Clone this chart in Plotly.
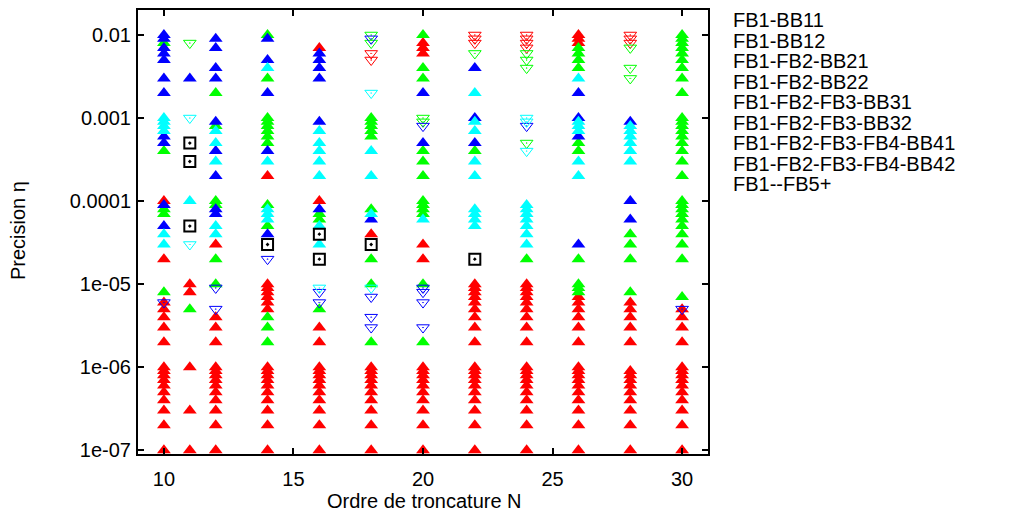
import plotly.graph_objects as go

# Precision values per truncation order N
low_band = [1e-7, 2e-7, 3e-7, 4e-7, 5e-7, 6e-7, 7e-7, 8e-7, 9e-7, 1e-6]
mid_band = [5e-6, 6e-6, 7e-6, 8e-6, 9e-6, 1e-5]

bb11 = {
    10: low_band + [2e-6, 3e-6, 4e-6, 5e-6, 6e-6, 2e-5, 1e-4],
    11: [1e-7, 3e-7, 1e-6, 8e-6, 1e-5],
    12: low_band + [2e-6, 3e-6, 4e-6, 3e-5],
    14: low_band + mid_band + [2e-4],
    16: low_band + [2e-6, 3e-6, 1e-4, 0.007],
    18: low_band + [4e-5],
    20: low_band + [2e-5, 3e-5, 0.006, 0.007, 0.008],
    22: low_band + [2e-6, 3e-6, 4e-6] + mid_band,
    24: low_band + [2e-6, 3e-6, 4e-6] + mid_band,
    26: low_band + [2e-6, 3e-6, 4e-6, 5e-6, 6e-6, 7e-6, 0.008, 0.009, 0.01],
    28: [1e-7, 2e-7, 3e-7, 4e-7, 5e-7, 6e-7, 7e-7, 8e-7, 9e-7, 2e-6, 3e-6, 4e-6, 5e-6, 6e-6],
    30: low_band + [2e-6, 3e-6, 4e-6, 5e-6],
}
bb12 = {
    18: [0.006, 0.005],
    22: [0.01, 0.009, 0.008],
    24: [0.01, 0.009, 0.008, 0.007],
    28: [0.01, 0.009, 0.008],
}
bb21 = {
    10: [0.008, 4e-4, 8e-5, 7e-5, 8e-6],
    11: [5e-6],
    12: [0.002, 8e-4, 1e-4, 9e-5, 2e-5, 1e-5],
    14: [0.01, 0.003, 1e-3, 9e-4, 8e-4, 7e-4, 6e-4, 5e-4, 9e-5, 5e-5, 4e-6, 3e-6, 2e-6],
    16: [7e-5, 6e-5, 5e-6],
    18: [1e-3, 9e-4, 8e-4, 7e-4, 6e-4, 8e-5, 2e-5, 1e-5, 2e-6],
    20: [0.01, 0.004, 0.003, 4e-4, 3e-4, 2e-4, 1e-4, 9e-5, 8e-5, 7e-5, 1e-5, 2e-6],
    22: [4e-4],
    24: [2e-5],
    26: [0.007, 0.006, 0.005, 0.004, 5e-4, 4e-4, 2e-5, 1e-5, 9e-6, 8e-6],
    28: [4e-5, 3e-5, 2e-5, 8e-6],
    30: [0.01, 0.009, 0.008, 0.007, 0.006, 0.005, 0.004, 0.003, 0.002,
         1e-3, 9e-4, 8e-4, 7e-4, 6e-4, 5e-4, 4e-4, 3e-4, 2e-4,
         1e-4, 9e-5, 8e-5, 7e-5, 6e-5, 5e-5, 4e-5, 3e-5, 2e-5, 7e-6],
}
bb22 = {
    11: [0.008],
    18: [0.01, 0.008],
    20: [1e-3, 9e-4],
    22: [0.006],
    24: [0.006, 0.005, 0.004, 5e-4],
    28: [0.007, 0.004, 0.003],
}
bb31 = {
    10: [0.01, 0.009, 0.007, 0.006, 0.005, 0.003, 0.002, 6e-4, 5e-4, 9e-5, 5e-5],
    11: [0.003],
    12: [0.009, 0.007, 0.004, 0.003, 9e-4, 4e-4, 2e-4, 8e-5, 7e-5],
    14: [0.009, 0.005, 0.002, 4e-4, 4e-5],
    16: [0.006, 0.005, 0.004, 0.003, 9e-4, 8e-5],
    18: [6e-5],
    20: [0.002, 5e-4],
    22: [0.004, 1e-3, 5e-4],
    26: [0.002, 1e-3, 6e-4, 3e-5],
    28: [9e-4, 1e-4, 6e-5],
}
bb32 = {
    10: [6e-6],
    12: [9e-6, 5e-6],
    14: [2e-5],
    16: [8e-6, 6e-6],
    18: [0.009, 7e-6, 4e-6, 3e-6],
    20: [8e-4, 9e-6, 8e-6, 6e-6, 3e-6],
    24: [8e-4],
    30: [5e-6],
}
bb41 = {
    10: [1e-3, 9e-4, 8e-4, 7e-4, 4e-5, 3e-5],
    11: [1e-4],
    12: [7e-4, 5e-4, 3e-4, 5e-5, 4e-5],
    14: [0.004, 3e-4, 8e-5, 7e-5, 6e-5],
    16: [7e-4, 5e-4, 4e-4, 3e-4, 2e-4, 5e-5, 3e-5],
    18: [4e-4, 2e-4, 7e-5],
    20: [6e-5],
    22: [0.002, 9e-4, 7e-4, 3e-4, 2e-4, 8e-5, 7e-5, 6e-5, 5e-5],
    24: [9e-5, 8e-5, 7e-5, 6e-5, 5e-5, 4e-5, 3e-5],
    26: [0.003, 9e-4, 8e-4, 7e-4, 3e-4, 2e-4],
    28: [8e-4, 7e-4, 6e-4, 5e-4, 4e-4, 3e-4],
}
bb42 = {
    11: [1e-3, 3e-5],
    16: [9e-6],
    18: [0.002, 9e-6],
    24: [1e-3, 9e-4, 4e-4],
}
fb5 = {
    11: [5e-4, 3e-4, 5e-5],
    14: [3e-5],
    16: [4e-5, 2e-5],
    18: [3e-5],
    22: [2e-5],
}

series = [
    ("FB1-BB11", bb11, "triangle-up", "#ff0000"),
    ("FB1-BB12", bb12, "triangle-down-open-dot", "#ff0000"),
    ("FB1-FB2-BB21", bb21, "triangle-up", "#00ff00"),
    ("FB1-FB2-BB22", bb22, "triangle-down-open-dot", "#00ff00"),
    ("FB1-FB2-FB3-BB31", bb31, "triangle-up", "#0000ff"),
    ("FB1-FB2-FB3-BB32", bb32, "triangle-down-open-dot", "#0000ff"),
    ("FB1-FB2-FB3-FB4-BB41", bb41, "triangle-up", "#00ffff"),
    ("FB1-FB2-FB3-FB4-BB42", bb42, "triangle-down-open-dot", "#00ffff"),
    ("FB1--FB5+", fb5, "square-open-dot", "#000000"),
]

y_ticks = [1e-7, 1e-6, 1e-5, 1e-4, 1e-3, 1e-2]
y_labels = ["1e-07", "1e-06", "1e-05", "0.0001", "0.001", "0.01"]
y_minor = [2e-7, 5e-7, 8e-7, 2e-6, 5e-6, 8e-6, 2e-5, 5e-5, 8e-5,
           2e-4, 5e-4, 8e-4, 2e-3, 5e-3, 8e-3]

W, H = 1017, 517
OFF = 8          # page body margin around the plot div
Y_SQUEEZE = 0.9845  # vertical scale seen in the snapshot
FONT = "Liberation Sans, Arial, sans-serif"
Y_RANGE = [-7.046, -1.699]


def px_x(p):
    return (p - OFF) / W


def px_y(p):
    return 1 - ((p - 0.1) / Y_SQUEEZE - OFF) / H


Y_DOMAIN = [px_y(453), px_y(9)]


def marker_style(symbol, color):
    if symbol == "triangle-up":
        return dict(symbol=symbol, size=12, color=color, line=dict(width=0))
    if symbol.startswith("square"):
        return dict(symbol=symbol, size=11, color=color, line=dict(width=2, color=color))
    return dict(symbol=symbol, size=11, color=color, line=dict(width=1, color=color))


fig = go.Figure()

for name, cols, symbol, color in series:
    xs, ys = [], []
    for n, vals in cols.items():
        xs += [n] * len(vals)
        ys += vals
    fig.add_trace(go.Scatter(
        x=xs, y=ys, mode="markers", name=name,
        marker=marker_style(symbol, color),
        showlegend=False, xaxis="x", yaxis="y",
    ))

# gnuplot style key: text on the left, symbol at the far right edge
for i, (name, cols, symbol, color) in enumerate(series):
    row_y = 19 + 20.5 * i
    fig.add_annotation(
        x=px_x(731), y=px_y(row_y), xref="paper", yref="paper",
        text=name, showarrow=False, xanchor="left", yanchor="middle",
        font=dict(size=20, color="#000000", family=FONT),
    )
    fig.add_trace(go.Scatter(
        x=[px_x(1018)], y=[px_y(row_y)], mode="markers",
        marker=marker_style(symbol, color), cliponaxis=False,
        showlegend=False, xaxis="x2", yaxis="y2", hoverinfo="skip",
    ))

fig.add_annotation(
    x=px_x(424), y=px_y(500), xref="paper", yref="paper",
    text="Ordre de troncature N", showarrow=False,
    xanchor="center", yanchor="middle",
    font=dict(size=20, color="#000000", family=FONT),
)
fig.add_annotation(
    x=px_x(18), y=px_y(230), xref="paper", yref="paper",
    text="Precision η", showarrow=False, textangle=-90,
    xanchor="center", yanchor="middle",
    font=dict(size=20, color="#000000", family=FONT),
)

axis_common = dict(
    showline=True, linecolor="#000000", linewidth=2, mirror="ticks",
    ticks="inside", tickcolor="#000000", tickwidth=1.5, ticklen=6,
    showgrid=False, zeroline=False,
    tickfont=dict(size=20, color="#000000", family=FONT),
)

fig.update_layout(
    width=W, height=H,
    margin=dict(l=0, r=0, t=0, b=0),
    paper_bgcolor="white", plot_bgcolor="rgba(0,0,0,0)",
    font=dict(family=FONT, color="#000000"),
    xaxis=dict(
        domain=[px_x(138), px_x(708)], range=[9, 31],
        tickmode="array", tickvals=[10, 15, 20, 25, 30], anchor="y",
        ticklabelstandoff=6,
        **axis_common,
    ),
    yaxis=dict(
        domain=Y_DOMAIN, type="log", range=Y_RANGE, anchor="x",
        tickmode="array", tickvals=y_ticks, ticktext=y_labels,
        ticklabelstandoff=1,
        **axis_common,
    ),
    # short minor ticks on a twin log axis
    yaxis3=dict(
        domain=Y_DOMAIN, type="log", range=Y_RANGE, overlaying="y", anchor="x",
        tickmode="array", tickvals=y_minor, showticklabels=False,
        showline=True, linecolor="#000000", linewidth=2, mirror="ticks",
        ticks="inside", ticklen=3, tickwidth=1.5, tickcolor="#000000",
        showgrid=False, zeroline=False,
    ),
    # key symbols live on a hidden full-page axis pair (paper fractions)
    xaxis2=dict(domain=[0, 1], range=[0, 1], visible=False, anchor="y2"),
    yaxis2=dict(domain=[0, 1], range=[0, 1], visible=False, anchor="x2"),
)

fig.write_html("out.html")
